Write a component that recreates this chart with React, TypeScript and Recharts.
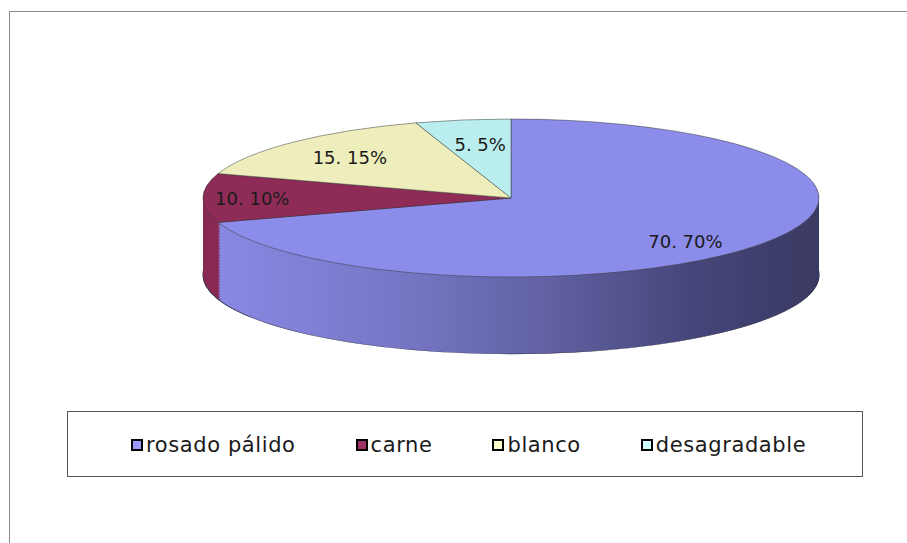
import React from 'react';
import { PieChart, Pie, Cell } from 'recharts';

const categories = ['rosado pálido', 'carne', 'blanco', 'desagradable'];
const values = [70, 10, 15, 5];
const percentLabels = ['70%', '10%', '15%', '5%'];

const topColors = ['#8C8CEA', '#8E2C57', '#EEEEBC', '#BAEDED'];
const legendColors = ['#9999FF', '#993366', '#FFFFCC', '#CCFFFF'];
const sideColors = ['url(#sideGrad)', '#882A53', '#D8D8A8', '#A8D8D8'];

// label placement factors (style)
const labelFx = [0.7, 0.84, 0.74, 0.64];
const labelFy = [0.93, 1, 0.73, 0.68];

const data = categories.map((name, i) => ({ name, value: values[i], pct: percentLabels[i] }));

const CX = 511;
const SCREEN_CY = 198;
const RX = 308;
const RY = 79;
const S = RY / RX;
const DEPTH = 77;
const CY = SCREEN_CY / S;
const H = Math.ceil((SCREEN_CY + RY + DEPTH + 6) / S);
const RAD = Math.PI / 180;

const offsets: number[] = [];
for (let k = DEPTH; k > 0; k -= 1.5) offsets.push(k);

const renderLabel = (props: any) => {
  const { cx, cy, midAngle, outerRadius, index } = props;
  const x = cx + labelFx[index] * outerRadius * Math.cos(-midAngle * RAD);
  const y = cy + labelFy[index] * outerRadius * Math.sin(-midAngle * RAD);
  return (
    <text
      key={`lbl-${index}`}
      transform={`translate(${x},${y}) scale(1,${1 / S})`}
      x={0}
      y={0}
      textAnchor="middle"
      dominantBaseline="central"
      fill="#1a1a1a"
      fontSize={18}
      fontFamily="'DejaVu Sans', sans-serif"
    >
      {`${data[index].value}. ${data[index].pct}`}
    </text>
  );
};

export default function App() {
  return (
    <div
      style={{
        position: 'absolute',
        left: 0,
        top: 0,
        width: 907,
        height: 543,
        background: '#fff',
        overflow: 'hidden',
        fontFamily: "'DejaVu Sans', sans-serif",
      }}
    >
      <svg width={0} height={0} style={{ position: 'absolute' }}>
        <defs>
          <linearGradient id="sideGrad" gradientUnits="userSpaceOnUse" x1={203} y1={0} x2={820} y2={0}>
            <stop offset="0" stopColor="#8A8AE6" />
            <stop offset="0.3" stopColor="#7878C8" />
            <stop offset="0.55" stopColor="#6262A4" />
            <stop offset="0.8" stopColor="#45457A" />
            <stop offset="1" stopColor="#3A3A62" />
          </linearGradient>
        </defs>
      </svg>
      <div
        style={{
          position: 'absolute',
          left: 9,
          top: 11,
          width: 1200,
          height: 1200,
          border: '1px solid #8a8a8a',
        }}
      />
      <div
        style={{
          position: 'absolute',
          left: 0,
          top: 0,
          width: 907,
          height: H,
          transform: `scaleY(${S})`,
          transformOrigin: '0 0',
        }}
      >
        <PieChart width={907} height={H} margin={{ top: 0, right: 0, bottom: 0, left: 0 }}>
          {offsets.map((k, oi) => (
            <Pie
              key={`side-${oi}`}
              data={data}
              dataKey="value"
              nameKey="name"
              cx={CX}
              cy={CY + k / S}
              outerRadius={RX}
              startAngle={90}
              endAngle={-270}
              isAnimationActive={false}
              stroke={oi === 0 ? '#2b2b45' : 'none'}
              strokeWidth={oi === 0 ? 1.2 : 0}
            >
              {data.map((_, i) => (
                <Cell key={i} fill={sideColors[i]} vectorEffect="non-scaling-stroke" />
              ))}
            </Pie>
          ))}
          <Pie
            data={data}
            dataKey="value"
            nameKey="name"
            cx={CX}
            cy={CY}
            outerRadius={RX}
            startAngle={90}
            endAngle={-270}
            isAnimationActive={false}
            stroke="#3a3a3a"
            strokeWidth={0.8}
            label={renderLabel}
            labelLine={false}
          >
            {data.map((_, i) => (
              <Cell key={i} fill={topColors[i]} vectorEffect="non-scaling-stroke" />
            ))}
          </Pie>
        </PieChart>
      </div>
      <div
        style={{
          position: 'absolute',
          left: 67,
          top: 411,
          width: 796,
          height: 66,
          border: '1px solid #555',
          boxSizing: 'border-box',
        }}
      />
      <div
        style={{
          position: 'absolute',
          left: 131,
          top: 433,
          height: 24,
          display: 'flex',
          alignItems: 'center',
          gap: 60,
        }}
      >
        {categories.map((c, i) => (
          <div key={c} style={{ display: 'flex', alignItems: 'center' }}>
            <div
              style={{
                width: 8,
                height: 8,
                background: legendColors[i],
                border: '2px solid #000',
                marginRight: 3,
              }}
            />
            <span style={{ fontSize: 21, color: '#1a1a1a', letterSpacing: 0.6, whiteSpace: 'nowrap' }}>{c}</span>
          </div>
        ))}
      </div>
    </div>
  );
}
